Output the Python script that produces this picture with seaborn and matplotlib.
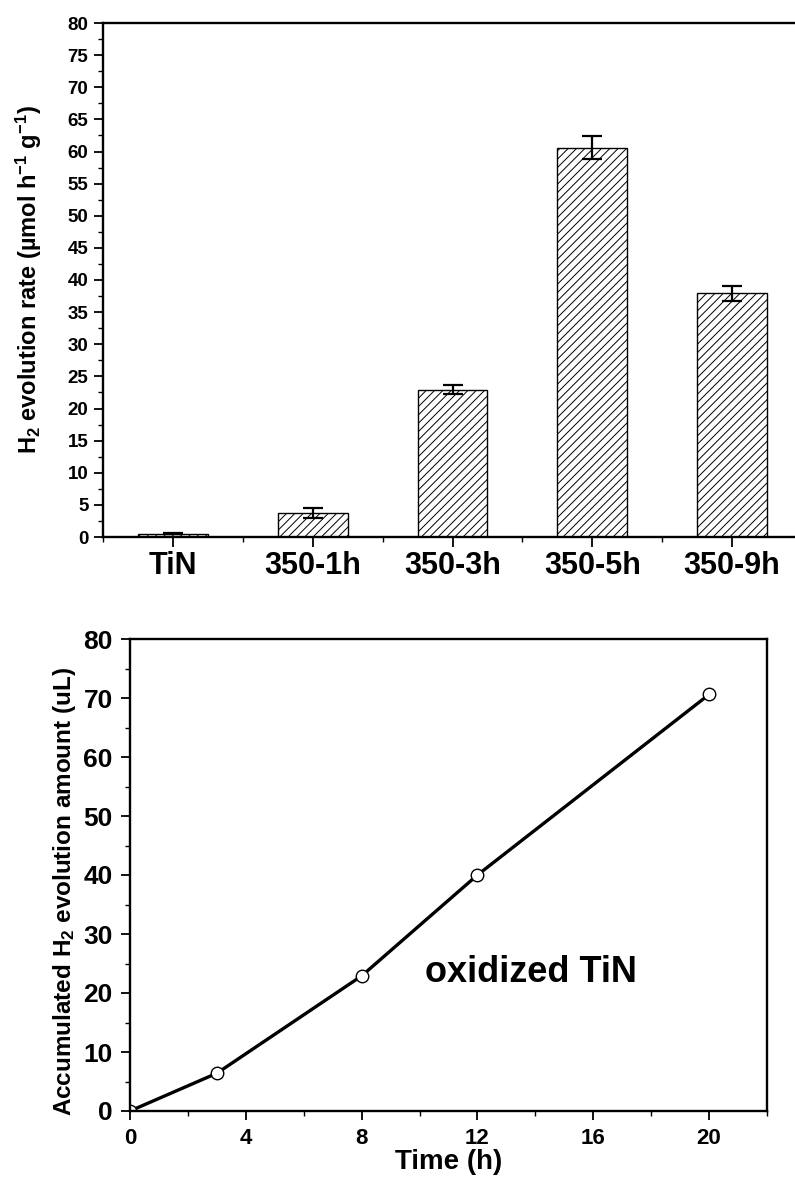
import numpy as np
import matplotlib
matplotlib.use("Agg")
import matplotlib.pyplot as plt
from matplotlib.ticker import MultipleLocator
import seaborn as sns

# ---- data ----
samples = ["TiN", "350-1h", "350-3h", "350-5h", "350-9h"]
rates = [0.5, 3.7, 22.9, 60.6, 37.9]
rate_err = [0.1, 0.75, 0.7, 1.8, 1.15]

time_h = [0, 3, 8, 12, 20]
amount_ul = [0.0, 6.4, 22.9, 40.0, 70.6]

sns.set_theme(style="ticks")
plt.rcParams["font.family"] = ["Liberation Sans", "DejaVu Sans"]
plt.rcParams["font.weight"] = "bold"
plt.rcParams["text.color"] = "black"
plt.rcParams["axes.labelcolor"] = "black"
plt.rcParams["xtick.color"] = "black"
plt.rcParams["ytick.color"] = "black"
plt.rcParams["mathtext.fontset"] = "custom"
plt.rcParams["mathtext.rm"] = "Liberation Sans:bold"
plt.rcParams["mathtext.bf"] = "Liberation Sans:bold"
plt.rcParams["mathtext.it"] = "Liberation Sans:bold"
plt.rcParams["mathtext.default"] = "regular"
plt.rcParams["hatch.linewidth"] = 0.7
plt.rcParams["hatch.color"] = "black"

fig = plt.figure(figsize=(7.95, 11.84), dpi=100)

# ---------- top: bar chart ----------
ax1 = fig.add_axes([103 / 795, 1 - 537 / 1184, (802 - 103) / 795, (537 - 23) / 1184])
sns.barplot(x=samples, y=rates, ax=ax1, width=0.5, color="white", saturation=1,
            edgecolor="black", linewidth=1.0, hatch="////", errorbar=None)
ax1.errorbar(np.arange(len(samples)), rates, yerr=rate_err, fmt="none",
             ecolor="black", elinewidth=1.6, capsize=7, capthick=1.6)
ax1.set_xlim(-0.5, 4.5)
ax1.set_ylim(0, 80)
ax1.yaxis.set_major_locator(MultipleLocator(5))
ax1.yaxis.set_minor_locator(MultipleLocator(2.5))
ax1.set_xticks(np.arange(-0.5, 5.0, 1.0), minor=True)
ax1.tick_params(axis="y", which="major", direction="out", length=6.5, width=1.3,
                labelsize=13.5, pad=4)
ax1.tick_params(axis="y", which="minor", direction="out", length=3.5, width=1.0)
ax1.tick_params(axis="x", which="major", direction="out", length=7, width=1.3,
                labelsize=22, pad=3)
ax1.tick_params(axis="x", which="minor", direction="out", length=3.5, width=1.0)
for lab in ax1.get_xticklabels() + ax1.get_yticklabels():
    lab.set_fontweight("bold")
for s in ax1.spines.values():
    s.set_linewidth(1.7)
    s.set_color("black")
ax1.set_xlabel("")
ax1.set_ylabel("H$_2$ evolution rate (µmol h$^{-1}$ g$^{-1}$)", fontsize=17,
               fontweight="bold")
ax1.yaxis.set_label_coords(-0.085, 0.5)

# ---------- bottom: line chart ----------
ax2 = fig.add_axes([130 / 795, 1 - 1111 / 1184, (767 - 130) / 795, (1111 - 639) / 1184])
sns.lineplot(x=time_h, y=amount_ul, ax=ax2, color="black", linewidth=2.4,
             marker="o", markersize=9, markerfacecolor="white",
             markeredgecolor="black", markeredgewidth=1.0)
ax2.set_xlim(0, 22)
ax2.set_ylim(0, 80)
ax2.xaxis.set_major_locator(MultipleLocator(4))
ax2.xaxis.set_minor_locator(MultipleLocator(2))
ax2.yaxis.set_major_locator(MultipleLocator(10))
ax2.yaxis.set_minor_locator(MultipleLocator(5))
ax2.tick_params(axis="y", which="major", direction="out", length=6.5, width=1.3,
                labelsize=19, pad=6)
ax2.tick_params(axis="x", which="major", direction="out", length=6.5, width=1.3,
                labelsize=16, pad=6)
ax2.tick_params(which="minor", direction="out", length=3.5, width=1.0)
for lab in ax2.get_xticklabels() + ax2.get_yticklabels():
    lab.set_fontweight("bold")
for s in ax2.spines.values():
    s.set_linewidth(1.7)
    s.set_color("black")
ax2.set_xlabel("Time (h)", fontsize=20, fontweight="bold", labelpad=0)
ax2.set_ylabel("Accumulated H$_2$ evolution amount (uL)", fontsize=17.5,
               fontweight="bold")
ax2.yaxis.set_label_coords(-0.082, 0.465)
ax2.text(13.85, 21.9, "oxidized TiN", fontsize=26, fontweight="bold",
         ha="center", va="baseline")

fig.savefig("out.png", dpi=100)
